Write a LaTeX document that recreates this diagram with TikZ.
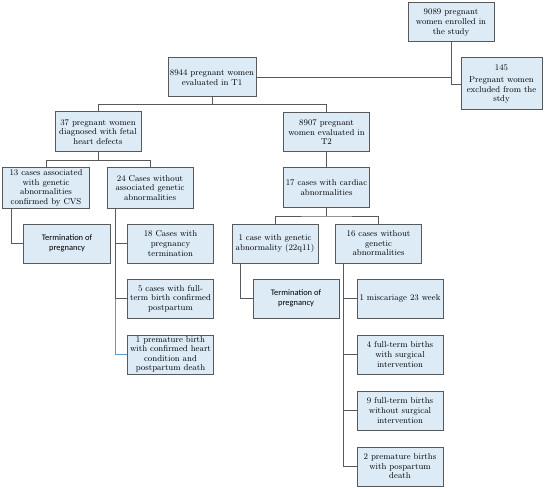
\documentclass[tikz,border=0pt]{standalone}
\usepackage{fontspec}
\newfontfamily\sansf{Carlito}
\definecolor{boxfill}{HTML}{DDEBF7}
\definecolor{boxline}{HTML}{595959}
\definecolor{conn}{HTML}{595959}
\definecolor{blueconn}{HTML}{5B9BD5}
\begin{document}
\begin{tikzpicture}[x=1bp,y=-1bp,
  box/.style={draw=boxline, line width=1bp, fill=boxfill, minimum width=86bp, minimum height=39bp, align=center, inner sep=0.5bp, font=\fontsize{8.6}{9.6}\selectfont},
  sansbox/.style={box, font=\sansf\fontsize{8.5}{10}\selectfont},
  link/.style={draw=conn, line width=0.9bp}]
\useasboundingbox (0,0) rectangle (550,489);
\node[box] (enr) at (451,22.5) {9089 pregnant\\women enrolled in\\the study};
\node[box, minimum width=81bp, minimum height=52bp] (exc) at (501.5,84) {145\\[3bp]Pregnant women\\excluded from the\\stdy};
\node[box, minimum width=88bp] (t1) at (212,77.5) {8944 pregnant women\\evaluated in T1};
\node[box, minimum height=40bp] (fhd) at (98,132) {37 pregnant women\\diagnosed with fetal\\heart defects};
\node[box] (t2) at (326.5,132.5) {8907 pregnant\\women evaluated in\\T2};
\node[box, minimum height=40bp] (g13) at (46,188) {13 cases associated\\with genetic\\abnormalities\\confirmed by CVS};
\node[box, minimum height=40bp] (ng24) at (150,188) {24 Cases without\\associated genetic\\abnormalities};
\node[sansbox] (term1) at (67,243.5) {Termination of\\pregnancy};
\node[box] (c18) at (170.5,243.5) {18 Cases with\\pregnancy\\termination};
\node[box] (c5) at (170.5,298.5) {5 cases with full-\\term birth confirmed\\postpartum};
\node[box] (c1p) at (170.5,354.5) {1 premature birth\\with confirmed heart\\condition and\\postpartum death};
\node[box] (c17) at (326.5,187.5) {17 cases with cardiac\\abnormalities};
\node[box] (g1) at (275,243.5) {1 case with genetic\\abnormality (22q11)};
\node[box] (ng16) at (378.5,243.5) {16 cases without\\genetic\\abnormalities};
\node[sansbox] (term2) at (296,298.5) {Termination of\\pregnancy};
\node[box] (mis) at (400,298.5) {1 miscariage 23 week};
\node[box] (ft4) at (400,354.5) {4 full-term births\\with surgical\\intervention};
\node[box] (ft9) at (400,410.5) {9 full-term births\\without surgical\\intervention};
\node[box] (pb2) at (400,466.5) {2 premature births\\with pospartum\\death};
% connectors
\draw[link] (enr.south) |- (exc.west);
\draw[link] (t1.east) -- (t1.east -| enr.south);
\draw[link] (t1.south) -- ++(0,7) coordinate (j1);
\draw[link] (fhd.north) |- (j1) -| (t2.north);
\draw[link] (fhd.south) -- ++(0,8) coordinate (j2);
\draw[link] (g13.north) |- (j2) -| (ng24.north);
\draw[link] ([xshift=9bp]g13.south west) |- (term1.west);
\coordinate (a24) at ([xshift=9bp]ng24.south west);
\draw[link] (a24) |- (c18.west);
\draw[link] (a24) |- (c5.west);
\draw[link, draw=blueconn] (a24 |- c5.west) |- (c1p.west);
\draw[link] (t2.south) -- (c17.north);
\draw[link] (c17.south) -- ++(0,8.5) coordinate (j3);
\draw[link] (g1.north) |- (j3) -| (ng16.north);
\draw[link] ([xshift=9bp]g1.south west) |- (term2.west);
\coordinate (a16) at ([xshift=8.5bp]ng16.south west);
\draw[link] (a16) |- (mis.west);
\draw[link] (a16) |- (ft4.west);
\draw[link] (a16) |- (ft9.west);
\draw[link] (a16) |- (pb2.west);
\end{tikzpicture}
\end{document}
